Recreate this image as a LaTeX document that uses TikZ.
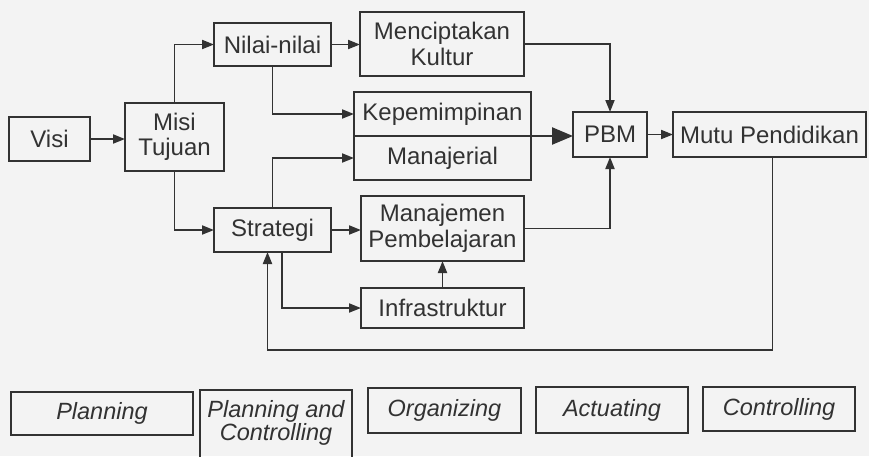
\documentclass[tikz,border=0pt]{standalone}
\usepackage{fontspec}
\setmainfont{Liberation Sans}
\usetikzlibrary{arrows.meta}
\definecolor{ink}{RGB}{50,50,50}
\definecolor{paper}{RGB}{243,243,243}
\tikzset{
  box/.style={draw=ink, line width=1.9pt, inner sep=0pt, outer sep=0pt, align=center,
    text=ink, font=\fontsize{24}{25.5}\selectfont},
  ibox/.style={box, font=\fontsize{23.5}{24.5}\selectfont\itshape},
  arr/.style={draw=ink, line width=1.9pt, -{Triangle[length=12pt,width=9pt]}},
  bigarr/.style={draw=ink, line width=2.3pt, -{Triangle[length=21pt,width=17pt]}},
}
\begin{document}
\begin{tikzpicture}[x=1pt,y=1pt]
\fill[paper] (0,0) rectangle (869,-456);
\useasboundingbox (0,0) rectangle (869,-456);
\clip (0,0) rectangle (869,-456);
% main nodes
\node[box, minimum width=81, minimum height=44] (visi) at (49.5,-139) {Visi};
\node[box, minimum width=99, minimum height=68] (misi) at (174.5,-137) {Misi\\Tujuan};
\node[box, minimum width=117, minimum height=43] (nilai) at (272.5,-44.5) {Nilai-nilai};
\node[box, minimum width=164, minimum height=64] (kultur) at (442,-44) {Menciptakan\\Kultur};
\node[box, minimum width=177, minimum height=44] (kep) at (442.5,-114) {Kepemimpinan};
\node[box, minimum width=177, minimum height=44] (man) at (442.5,-158) {Manajerial};
\node[box, minimum width=74, minimum height=45] (pbm) at (610,-134.5) {PBM};
\node[box, minimum width=193, minimum height=45] (mutu) at (769.5,-134.5) {Mutu Pendidikan};
\node[box, minimum width=117, minimum height=44] (strat) at (272.5,-230) {Strategi};
\node[box, minimum width=163, minimum height=65] (mp) at (442.5,-228.5) {Manajemen\\Pembelajaran};
\node[box, minimum width=163, minimum height=40] (infra) at (442.5,-308) {Infrastruktur};
% bottom row
\node[ibox, minimum width=182, minimum height=43] (pl) at (102,-413.5) {Planning};
\node[ibox, minimum width=152, minimum height=80] (pc) at (276,-430) {};
\node[text=ink, font=\fontsize{23.5}{21}\selectfont\itshape, align=center, inner sep=0pt] (pctext) at (276,-423) {Planning and\\Controlling};
\node[ibox, minimum width=153, minimum height=45] (org) at (444.5,-410.5) {Organizing};
\node[ibox, minimum width=152, minimum height=46] (act) at (612,-410) {Actuating};
\node[ibox, minimum width=152, minimum height=44] (ctrl) at (779,-409) {Controlling};
% connectors
\draw[arr] (visi.east) -- (visi.east -| misi.west);
\draw[arr] (misi.north) |- (nilai.west);
\draw[arr] (misi.south) |- (strat.west);
\draw[arr] (nilai.east) -- (nilai.east -| kultur.west);
\draw[arr] (nilai.south) |- (kep.west);
\draw[arr] (kultur.east) -| (pbm.north);
\draw[bigarr] (kep.south east) -- (kep.south east -| pbm.west);
\draw[arr] (strat.north) |- (man.west);
\draw[arr] (strat.east) -- (strat.east -| mp.west);
\draw[arr] ([xshift=9.5pt]strat.south) |- (infra.west);
\draw[arr] (infra.north) -- (mp.south);
\draw[arr] (mp.east) -| (pbm.south);
\draw[arr] (pbm.east) -- (mutu.west);
\draw[arr] ([xshift=3pt]mutu.south) -- ++(0,-193) -| ([xshift=-5pt]strat.south);
\end{tikzpicture}
\end{document}
